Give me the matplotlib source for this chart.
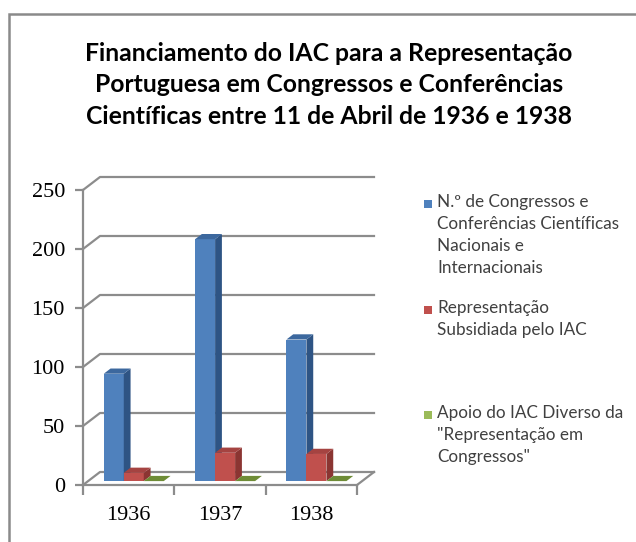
import matplotlib
matplotlib.use("Agg")
import matplotlib.pyplot as plt
from matplotlib.patches import Polygon, Rectangle
import numpy as np

# ---- data ----
categories = ["1936", "1937", "1938"]
series_names = [
    "N.º de Congressos e\nConferências Científicas\nNacionais e\nInternacionais",
    "Representação\nSubsidiada pelo IAC",
    "Apoio do IAC Diverso da\n\"Representação em\nCongressos\"",
]
congressos = [91, 205, 120]
subsidiada = [7, 24, 23]
apoio = [0, 0, 0]
yticks = [0, 50, 100, 150, 200, 250]
title = ("Financiamento do IAC para a Representação\n"
         "Portuguesa em Congressos e Conferências\n"
         "Científicas entre 11 de Abril de 1936 e 1938")

front_cols = ["#4F81BD", "#C0504D", "#9BBB59"]
side_cols = ["#2E5484", "#8B3532", "#6E8C36"]
top_cols = ["#3C689E", "#A54341", "#7F9F40"]

W, H = 636, 542
fig = plt.figure(figsize=(W / 100, H / 100), dpi=100)

# border of chart area
fig.patches.append(Rectangle((9 / W, -0.1), 1.2, (H - 14) / H + 0.1, transform=fig.transFigure,
                             fill=False, edgecolor="#8a8a8a", linewidth=1.8))

fig.text(329 / W, 1 - 85 / H, title, ha="center", va="center", fontsize=17.8,
         family="Lato", fontweight="bold", linespacing=1.44, color="#000000")

# axes geometry: x 0..3 -> px 83..357, y 0..250 -> px 485..190
px_per_cat = (357 - 83) / 3
px_per_val = (485 - 190) / 250
xmax, ymax = 3.2, 262
ax = fig.add_axes([83 / W, (H - 485) / H, xmax * px_per_cat / W, ymax * px_per_val / H])
ax.set_xlim(0, xmax)
ax.set_ylim(0, ymax)
ax.patch.set_visible(False)

gcol = "#8c8c8c"
dxd = 17 / px_per_cat
dyd = 13 / px_per_val

for s in ["top", "right"]:
    ax.spines[s].set_visible(False)
ax.spines["left"].set_bounds(0, 250)
ax.spines["bottom"].set_bounds(0, 3)
for s in ["left", "bottom"]:
    ax.spines[s].set_color(gcol)
    ax.spines[s].set_linewidth(1.6)

# back wall gridlines and connectors
for v in yticks:
    ax.plot([0, dxd, 3 + dxd], [v, v + dyd, v + dyd], color=gcol, lw=1.6, clip_on=False, zorder=1)
# floor right edge
ax.plot([3, 3 + dxd], [0, dyd], color=gcol, lw=1.6, clip_on=False, zorder=1)

ax.set_yticks(yticks)
ax.set_yticklabels([str(v) for v in yticks], family="Liberation Serif", fontsize=16)
ax.set_xticks([0, 1, 2, 3])
ax.set_xticklabels(["", "", "", ""])
ax.set_xticks([0.5, 1.5, 2.5], minor=True)
ax.set_xticklabels(categories, minor=True, family="Liberation Serif", fontsize=16)
ax.tick_params(axis="y", direction="out", length=6, width=1.6, color=gcol, pad=7)
ax.tick_params(axis="x", which="major", direction="out", length=7, width=1.6, color=gcol)
ax.tick_params(axis="x", which="minor", length=0, pad=15)

# 3D bars
f0, f1 = 0.3, 0.7
bw = 0.219
ddx = (f1 - f0) * dxd
ddy = (f1 - f0) * dyd
allser = [congressos, subsidiada, apoio]
z = 3
for i in range(len(categories)):
    for k, ser in enumerate(allser):
        v = ser[i]
        x0 = i + 0.5 + f0 * dxd + (k - 1) * bw - bw / 2
        y0 = f0 * dyd
        ax.bar([x0], [v], width=bw, bottom=y0, align="edge", color=front_cols[k],
               edgecolor="none", zorder=z, clip_on=False)
        x1 = x0 + bw
        side = Polygon([(x1, y0), (x1 + ddx, y0 + ddy), (x1 + ddx, y0 + ddy + v), (x1, y0 + v)],
                       closed=True, facecolor=side_cols[k], edgecolor="none", zorder=z + 1, clip_on=False)
        top = Polygon([(x0, y0 + v), (x1, y0 + v), (x1 + ddx, y0 + ddy + v), (x0 + ddx, y0 + ddy + v)],
                      closed=True, facecolor=(top_cols[k] if v > 0 else side_cols[k]),
                      edgecolor="none", zorder=z + 1, clip_on=False)
        ax.add_patch(side)
        ax.add_patch(top)
        z += 2

# legend
leg_y = [204, 310, 415]
for k, name in enumerate(series_names):
    fig.patches.append(Rectangle((424 / W, 1 - (leg_y[k] + 4) / H), 8 / W, 8 / H,
                                 transform=fig.transFigure, facecolor=front_cols[k], edgecolor="none"))
    fig.text(437 / W, 1 - (leg_y[k] - 10) / H, name, ha="left", va="top", fontsize=12.3,
             family="Lato", color="#404040", linespacing=1.45)

fig.savefig("out.png", dpi=100)
